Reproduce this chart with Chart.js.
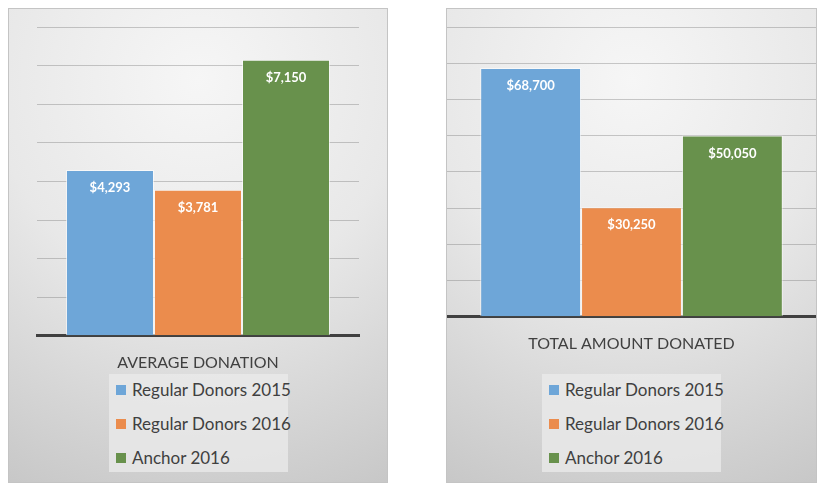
<!DOCTYPE html>
<html>
<head>
<meta charset="utf-8">
<script src="https://cdn.jsdelivr.net/npm/chart.js@4"></script>
<style>
  body { margin: 0; background: #fff; width: 826px; height: 491px; position: relative; font-family: Lato, "Open Sans", sans-serif; }
  .panel { position: absolute; top: 8px; height: 475px; box-sizing: border-box; border: 1px solid #c4c4c4;
    background: radial-gradient(ellipse 120% 100% at 50% 15%, #f6f6f6 0%, #e8e8e8 45%, #c4c4c4 100%); }
  .panel canvas { position: absolute; left: 0; top: 0; }
  .legend { position: absolute; top: 365px; width: 179px; height: 98px; background: rgba(235,235,235,0.75); }
  .legend div { position: absolute; left: 7px; font-size: 17px; color: #404040; line-height: 20px; white-space: nowrap; }
  .legend span { display: inline-block; width: 10px; height: 10px; margin-right: 6px; vertical-align: 1px; }
</style>
</head>
<body>
<div class="panel" id="p1" style="left:8px;width:380px;"><canvas id="c1"></canvas><div class="legend" id="l1" style="left:100px"></div></div>
<div class="panel" id="p2" style="left:446px;width:371px;"><canvas id="c2"></canvas><div class="legend" id="l2" style="left:95px"></div></div>
<script>
const seriesNames = ["Regular Donors 2015", "Regular Donors 2016", "Anchor 2016"];
const seriesColors = ["#6ea6d8", "#eb8c4d", "#68914c"];
const averageDonation = [4293, 3781, 7150];
const totalDonated = [68700, 30250, 50050];
const averageTitle = "AVERAGE DONATION";
const totalTitle = "TOTAL AMOUNT DONATED";

const valueLabels = {
  id: "valueLabels",
  afterDatasetsDraw(chart) {
    const ctx = chart.ctx;
    ctx.save();
    ctx.fillStyle = "#fff";
    ctx.font = "bold 13px Lato, 'Open Sans', sans-serif";
    ctx.textAlign = "center";
    ctx.textBaseline = "middle";
    chart.data.datasets.forEach((ds, i) => {
      const bar = chart.getDatasetMeta(i).data[0];
      ctx.fillText("$" + ds.data[0].toLocaleString("en-US"), bar.x, bar.y + 18);
    });
    ctx.restore();
  }
};

function makeChart(id, legendId, values, title, max, step, w, h, pad) {
  const canvas = document.getElementById(id);
  canvas.width = w; canvas.height = h;
  canvas.style.width = w + "px"; canvas.style.height = h + "px";
  new Chart(canvas, {
    type: "bar",
    data: {
      labels: [title],
      datasets: seriesNames.map((name, i) => ({
        label: name,
        data: [values[i]],
        backgroundColor: seriesColors[i],
        borderColor: "rgba(255,255,255,0.6)",
        borderWidth: { left: 1, right: 1, top: 1, bottom: 0 },
        categoryPercentage: 0.82,
        barPercentage: 1
      }))
    },
    options: {
      responsive: false,
      animation: false,
      devicePixelRatio: 1,
      layout: { padding: pad },
      plugins: { legend: { display: false }, tooltip: { enabled: false } },
      scales: {
        x: {
          grid: { display: false },
          border: { color: "#404040", width: 3 },
          ticks: { display: false },
          title: { display: true, text: title, color: "#404040", font: { size: 16, family: "Lato, 'Open Sans', sans-serif" }, padding: { top: 9, bottom: 0 } }
        },
        y: {
          min: 0, max: max,
          ticks: { display: false, stepSize: step },
          border: { display: false },
          grid: { color: "rgba(110,110,110,0.35)", drawTicks: false }
        }
      }
    },
    plugins: [valueLabels]
  });
  const legend = document.getElementById(legendId);
  seriesNames.forEach((name, i) => {
    const d = document.createElement("div");
    d.style.top = (6 + i * 34) + "px";
    d.innerHTML = '<span style="background:' + seriesColors[i] + '"></span>' + name;
    legend.appendChild(d);
  });
}

makeChart("c1", "l1", averageDonation, averageTitle, 8000, 1000, 378, 363, { top: 18, left: 28, right: 28, bottom: 0 });
makeChart("c2", "l2", totalDonated, totalTitle, 80000, 10000, 369, 344, { top: 18, left: 0, right: 0, bottom: 0 });
</script>
</body>
</html>
